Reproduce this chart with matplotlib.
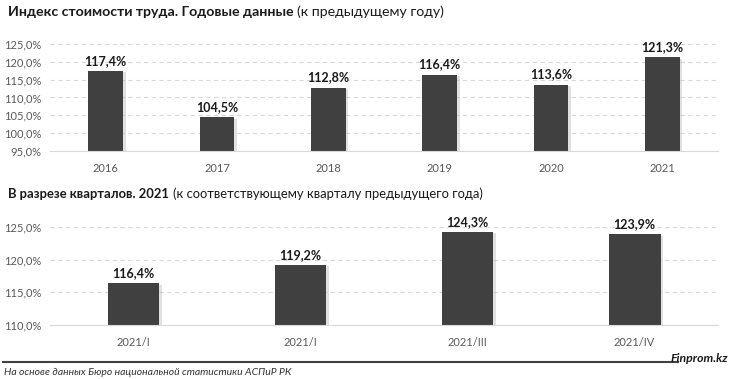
import matplotlib.pyplot as plt
import matplotlib.patheffects as pe
from matplotlib.ticker import FuncFormatter

years = ['2016', '2017', '2018', '2019', '2020', '2021']
year_values = [117.4, 104.5, 112.8, 116.4, 113.6, 121.3]

quarters = ['2021/I', '2021/I', '2021/III', '2021/IV']
quarter_values = [116.4, 119.2, 124.3, 123.9]

plt.rcParams['font.family'] = ['Lato', 'DejaVu Sans']

bar_color = '#404040'
grid_color = '#d9d9d9'
tick_color = '#595959'
shadow = [pe.SimplePatchShadow(offset=(2, -1), shadow_rgbFace='#aaaaaa', alpha=0.35), pe.Normal()]


def pct(v, pos=None):
    return f'{v:.1f}%'.replace('.', ',')


def draw_bars(ax, labels, values, ylim, step):
    x = range(len(labels))
    base = ylim[0]
    bars = ax.bar(x, [v - base for v in values], width=0.31, color=bar_color,
                  bottom=base, zorder=3)
    for b in bars:
        b.set_path_effects(shadow)
    ax.set_ylim(*ylim)
    ax.set_xlim(-0.5, len(labels) - 0.5)
    ax.set_yticks([base + i * step for i in range(int((ylim[1] - base) / step) + 1)])
    ax.yaxis.set_major_formatter(FuncFormatter(pct))
    ax.set_xticks(list(x))
    ax.set_xticklabels(labels)
    ax.tick_params(length=0, labelsize=8, colors=tick_color, pad=6)
    ax.tick_params(axis='x', pad=9)
    ax.grid(axis='y', color=grid_color, linestyle=(0, (4, 3)), linewidth=0.8, zorder=0)
    for s in ['top', 'right', 'left']:
        ax.spines[s].set_visible(False)
    ax.spines['bottom'].set_color(grid_color)
    ax.spines['bottom'].set_zorder(4)
    for xi, v in zip(x, values):
        ax.text(xi, v + (ylim[1] - base) * 0.04, pct(v), ha='center', va='bottom',
                fontsize=9, fontweight='bold', color='#1a1a1a', clip_on=False)


fig = plt.figure(figsize=(7.31, 3.79), dpi=100)

ax1 = fig.add_axes([0.0684, 0.6016, 0.914, 0.2823])
draw_bars(ax1, years, year_values, (95, 125), 5)

ax2 = fig.add_axes([0.0684, 0.1425, 0.914, 0.2586])
draw_bars(ax2, quarters, quarter_values, (110, 125), 5)


def title(y, bold, rest, size):
    t = fig.text(0.011, y, bold, fontsize=size, fontweight='bold', color='#1a1a1a', va='center')
    fig.canvas.draw()
    bb = t.get_window_extent()
    fig.text(bb.x1 / fig.bbox.width + 0.005, y, rest, fontsize=size,
             color='#1a1a1a', va='center')


title(0.968, 'Индекс стоимости труда. Годовые данные', '(к предыдущему году)', 10.2)
title(0.488, 'В разрезе кварталов. 2021', '(к соответствующему кварталу предыдущего года)', 9.4)

# footer
fig.add_artist(plt.Line2D([0.004, 0.927], [0.045, 0.045], color='#404040', linewidth=1.5,
                          transform=fig.transFigure))
fig.text(0.996, 0.045, 'Finprom.kz', fontsize=8.8, fontweight='bold', fontstyle='italic',
         color='#1a1a1a', ha='right', va='baseline')
fig.text(0.006, 0.018, 'На основе данных Бюро национальной статистики АСПиР РК', fontsize=7.5,
         fontstyle='italic', color='#333333', va='center')

fig.savefig('out.png', dpi=100)
